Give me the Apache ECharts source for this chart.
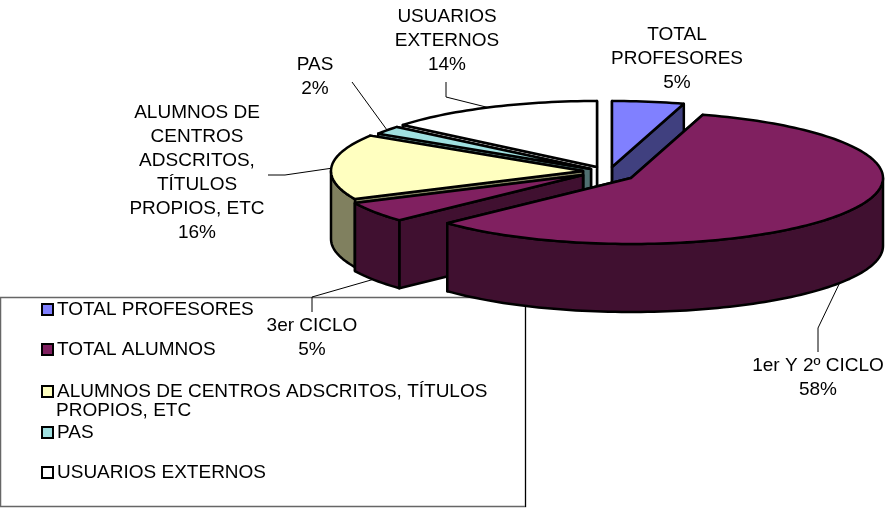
<!DOCTYPE html>
<html>
<head>
<meta charset="utf-8">
<style>html,body{margin:0;padding:0;background:#fff}#c{width:887px;height:509px}</style>
<script src="https://cdn.jsdelivr.net/npm/echarts@6/dist/echarts.min.js"></script>
</head>
<body>
<div id="c"></div>
<script>
// Data
const sliceNames = ['TOTAL PROFESORES','TOTAL ALUMNOS','TOTAL ALUMNOS','ALUMNOS DE CENTROS ADSCRITOS, TÍTULOS PROPIOS, ETC','PAS','USUARIOS EXTERNOS'];
const sliceValues = [4.6, 58.4, 5, 16, 2, 14];
const legendNames = ['TOTAL PROFESORES','TOTAL ALUMNOS','ALUMNOS DE CENTROS ADSCRITOS, TÍTULOS PROPIOS, ETC','PAS','USUARIOS EXTERNOS'];

// Style and layout
const topColors  = ['#8080FF','#802060','#802060','#FFFFC0','#A0E0E0','#FFFFFF'];
const sideColors = ['#40407F','#401030','#401030','#80805F','#507070','#FFFFFF'];
const centers = [[612,167],[631,178],[583,175],[583,171],[591,169],[597,167]];
const drawOrder = [5,0,4,3,2,1];
const RX = 252, RY = 66, DEPTH = 68;
const FONT = '"Liberation Sans", Arial, sans-serif';

const total = sliceValues.reduce((a,b)=>a+b,0);
const starts = [];
sliceValues.reduce((acc,v,i)=>{starts[i]=acc;return acc+v/total*360;},0);

function pt(c,deg,dy){
  const r = deg*Math.PI/180;
  return [c[0]+RX*Math.sin(r), c[1]-RY*Math.cos(r)+(dy||0)];
}
function arc(c,a0,a1,dy){
  const pts=[], n=Math.max(2,Math.ceil(Math.abs(a1-a0)/1.5));
  for(let i=0;i<=n;i++) pts.push(pt(c,a0+(a1-a0)*i/n,dy));
  return pts;
}
function poly(points,fill){
  return {type:'polygon',shape:{points},style:{fill,stroke:'#000',lineWidth:2.5,lineJoin:'round'}};
}
function renderSlice(idx){
  return function(){
    const c=centers[idx], a0=starts[idx], a1=a0+sliceValues[idx]/total*360;
    const side=sideColors[idx], children=[];
    const wall=a=>{const p=pt(c,a);return poly([c,p,[p[0],p[1]+DEPTH],[c[0],c[1]+DEPTH]],side);};
    children.push(wall(a1), wall(a0));
    const f0=Math.max(a0,90), f1=Math.min(a1,270);
    if(f1>f0) children.push(poly(arc(c,f0,f1,0).concat(arc(c,f1,f0,DEPTH)),side));
    children.push(poly([c].concat(arc(c,a0,a1,0)),topColors[idx]));
    return {type:'group',children};
  };
}
const series = drawOrder.map((idx,k)=>({
  type:'custom', name:sliceNames[idx], coordinateSystem:'none', silent:true,
  z:5+k, animation:false, legendIcon:'rect',
  itemStyle:{color:topColors[idx]},
  data:[[sliceValues[idx]]], renderItem:renderSlice(idx)
}));

const legendTops = [300,340,382,423,463];
const legends = legendNames.map((n,i)=>({
  data:[{name:n,icon:'rect'}], left:41, top:legendTops[i], orient:'vertical',
  padding:0, itemWidth:11, itemHeight:11, selectedMode:false, z:20,
  itemStyle:{borderColor:'#000',borderWidth:2},
  formatter:v=>v.indexOf('ALUMNOS DE')===0?'ALUMNOS DE CENTROS ADSCRITOS, TÍTULOS':v,
  textStyle:{fontFamily:FONT,fontSize:19,color:'#000',padding:[0,0,0,-1]}
}));

const label=(text,x,y)=>({type:'text',z:30,style:{text,x,y,align:'center',verticalAlign:'middle',fill:'#000',font:'19px '+FONT,lineHeight:24}});
const leader=pts=>({type:'polyline',z:4,shape:{points:pts},style:{stroke:'#000',lineWidth:1,fill:null}});

const graphic=[
  {type:'rect',z:1,shape:{x:0.5,y:297.5,width:525,height:209},style:{fill:'#fff',stroke:'#666',lineWidth:1.5}},
  {type:'line',z:2,shape:{x1:525.5,y1:297,x2:525.5,y2:507},style:{stroke:'#000',lineWidth:1}},
  {type:'text',z:30,style:{text:'PROPIOS, ETC',x:56,y:411,verticalAlign:'middle',fill:'#000',font:'19px '+FONT}},
  leader([[446,82],[446,97],[490,108]]),
  leader([[352,82],[387,130]]),
  leader([[268,175],[285,175],[333,168]]),
  leader([[312,312],[312,297],[378,278]]),
  leader([[818,352],[818,328],[842,278]]),
  label('USUARIOS\nEXTERNOS\n14%',447,41),
  label('TOTAL\nPROFESORES\n5%',677,59),
  label('PAS\n2%',315,77),
  label('ALUMNOS DE\nCENTROS\nADSCRITOS,\nTÍTULOS\nPROPIOS, ETC\n16%',197,173),
  label('3er CICLO\n5%',312,338),
  label('1er Y 2º CICLO\n58%',818,378)
];

const chart = echarts.init(document.getElementById('c'),null,{renderer:'canvas'});
chart.setOption({
  animation:false, backgroundColor:'#fff',
  legend:legends, graphic:{elements:graphic}, series
});
</script>
</body>
</html>
